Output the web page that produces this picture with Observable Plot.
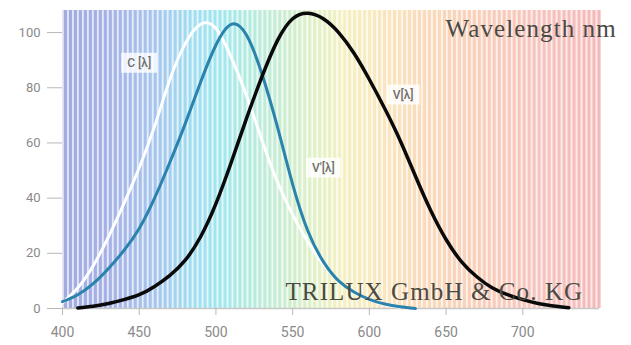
<!DOCTYPE html>
<html><head><meta charset="utf-8">
<script src="https://cdn.jsdelivr.net/npm/d3@7"></script>
<script src="https://cdn.jsdelivr.net/npm/@observablehq/plot@0.6"></script>
<style>body{margin:0;background:#fff} #chart{width:631px;height:345px}</style>
</head><body><div id="chart"></div>
<script>
// C(λ) – white curve
const lambdaC = [400,410,420,430,440,450,460,470,480,490,500,510,520,530,540,550,560,570,580,590,600,610,620];
const valuesC = [2,7.5,15.5,26,38,51,66,83,96,103,101.5,91,77,61,46,34,24,16,10,6,3.2,1.4,0.4];
// V'(λ) – blue curve (scotopic)
const lambdaVs = [400,410,420,430,440,450,460,470,480,490,500,510,520,530,540,550,560,570,580,590,600,610,620,630];
const valuesVs = [2.5,5,9,14.5,21,29,40,53,67,82,95.5,103,99,85,66,45,28,17,10,6,3.3,1.6,0.6,0];
// V(λ) – black curve (photopic)
const lambdaV = [410,420,430,440,450,460,470,480,490,500,510,520,530,540,550,560,570,580,590,600,610,620,630,640,650,660,670,680,690,700,710,720,730];
const valuesV = [0.2,0.8,1.8,3.2,5,8,12,17.5,26,38,53,69,84,97,105,107,105,100,92.5,83,72.5,61,48,35.5,25,17,11.5,7.5,5,3.2,1.8,0.9,0.3];

const xTicks = [400,450,500,550,600,650,700];
const yTicks = [0,20,40,60,80,100];
const curveLabels = [
  {text: "C [λ]", x: 450, y: 89},
  {text: "V'[λ]", x: 570, y: 51},
  {text: "V[λ]", x: 622, y: 77.5}
];
const titleText = "Wavelength nm";
const creditText = "TRILUX GmbH & Co. KG";

// spectrum background (decoration)
const stripeStep = 3.25;
const stripes = d3.range(400, 750, stripeStep);
const specStops = [400,430,460,480,500,520,540,560,580,600,630,670,710,750];
const specColors = ["#a2abe0","#a5b2e6","#a6c6ee","#a0dcf0","#a0e6ef","#b4ebdf","#c8ecd2","#def0c8","#f4f0c2","#f9eac0","#fadcbc","#f9cfba","#f6c3be","#f4b8b8"];
const spec = d3.scaleLinear().domain(specStops).range(specColors).interpolate(d3.interpolateRgb);
const pale = d => d3.interpolateRgb(spec(d), "#ffffff")(0.7);

const series = [
  ...lambdaC.map((x,i)=>({s:"C", x, y: valuesC[i]})),
  ...lambdaVs.map((x,i)=>({s:"Vs", x, y: valuesVs[i]})),
  ...lambdaV.map((x,i)=>({s:"V", x, y: valuesV[i]}))
];

const plot = Plot.plot({
  width: 631, height: 345,
  marginLeft: 62, marginRight: 32, marginTop: 10, marginBottom: 37,
  x: {domain: [400, 750]},
  y: {domain: [0, 108]},
  style: {background: "transparent", fontFamily: "Roboto, 'Liberation Sans', sans-serif"},
  marks: [
    Plot.rect(stripes, {x1: d => d, x2: d => d + stripeStep, y1: 0, y2: 108, fill: d => pale(d)}),
    Plot.rect(stripes, {x1: d => d + stripeStep*0.38, x2: d => d + stripeStep, y1: 0, y2: 108, fill: d => spec(d)}),
    Plot.ruleY([0], {stroke: "#c8c8c8", strokeWidth: 1.5}),
    Plot.axisX({ticks: xTicks, tickSize: 7, tickPadding: 12, stroke: "#b8b8b8", fill: "#8a8a8a", fontSize: 14, label: null}),
    Plot.axisY({ticks: yTicks, tickSize: 15, tickPadding: 7, stroke: "#b8b8b8", fill: "#8a8a8a", fontSize: 13, label: null}),
    Plot.line(series.filter(d => d.s === "C"), {x: "x", y: "y", stroke: "#ffffff", strokeWidth: 3, curve: "natural"}),
    Plot.line(series.filter(d => d.s === "Vs"), {x: "x", y: "y", stroke: "#2a83ad", strokeWidth: 3, curve: "natural"}),
    Plot.line(series.filter(d => d.s === "V"), {x: "x", y: "y", stroke: "#0a0a0a", strokeWidth: 3.5, curve: "natural"}),
    Plot.text(curveLabels, {x: "x", y: "y", text: "text", fill: "#707070", fontSize: 12, fontWeight: 500}),
    Plot.text([titleText], {frameAnchor: "top-left", dx: 383, dy: 18, textAnchor: "start", lineAnchor: "middle", fontFamily: "'Liberation Serif', serif", fontSize: 25, fill: "#4a4a44", text: d => d}),
    Plot.text([creditText], {frameAnchor: "top-left", dx: 223, dy: 281, textAnchor: "start", lineAnchor: "middle", fontFamily: "'Liberation Serif', serif", fontSize: 25, fill: "#4a4a44", text: d => d})
  ]
});
document.getElementById("chart").append(plot);
// white boxes behind curve labels
const labelTexts = curveLabels.map(d => d.text);
d3.select(plot).selectAll("text").filter(function(){ return labelTexts.includes(this.textContent); }).each(function(){
  const b = this.getBBox();
  const tr = this.getAttribute("transform");
  const r = d3.select(this.parentNode).insert("rect", () => this)
    .attr("x", b.x - 6).attr("y", b.y - 3).attr("width", b.width + 12).attr("height", b.height + 6)
    .attr("fill", "#ffffff").attr("fill-opacity", 0.8);
  if (tr) r.attr("transform", tr);
});
d3.select(plot).selectAll("text").filter(function(){ return this.textContent === titleText || this.textContent === creditText; })
  .style("letter-spacing", "1.1px");
</script>
</body></html>
